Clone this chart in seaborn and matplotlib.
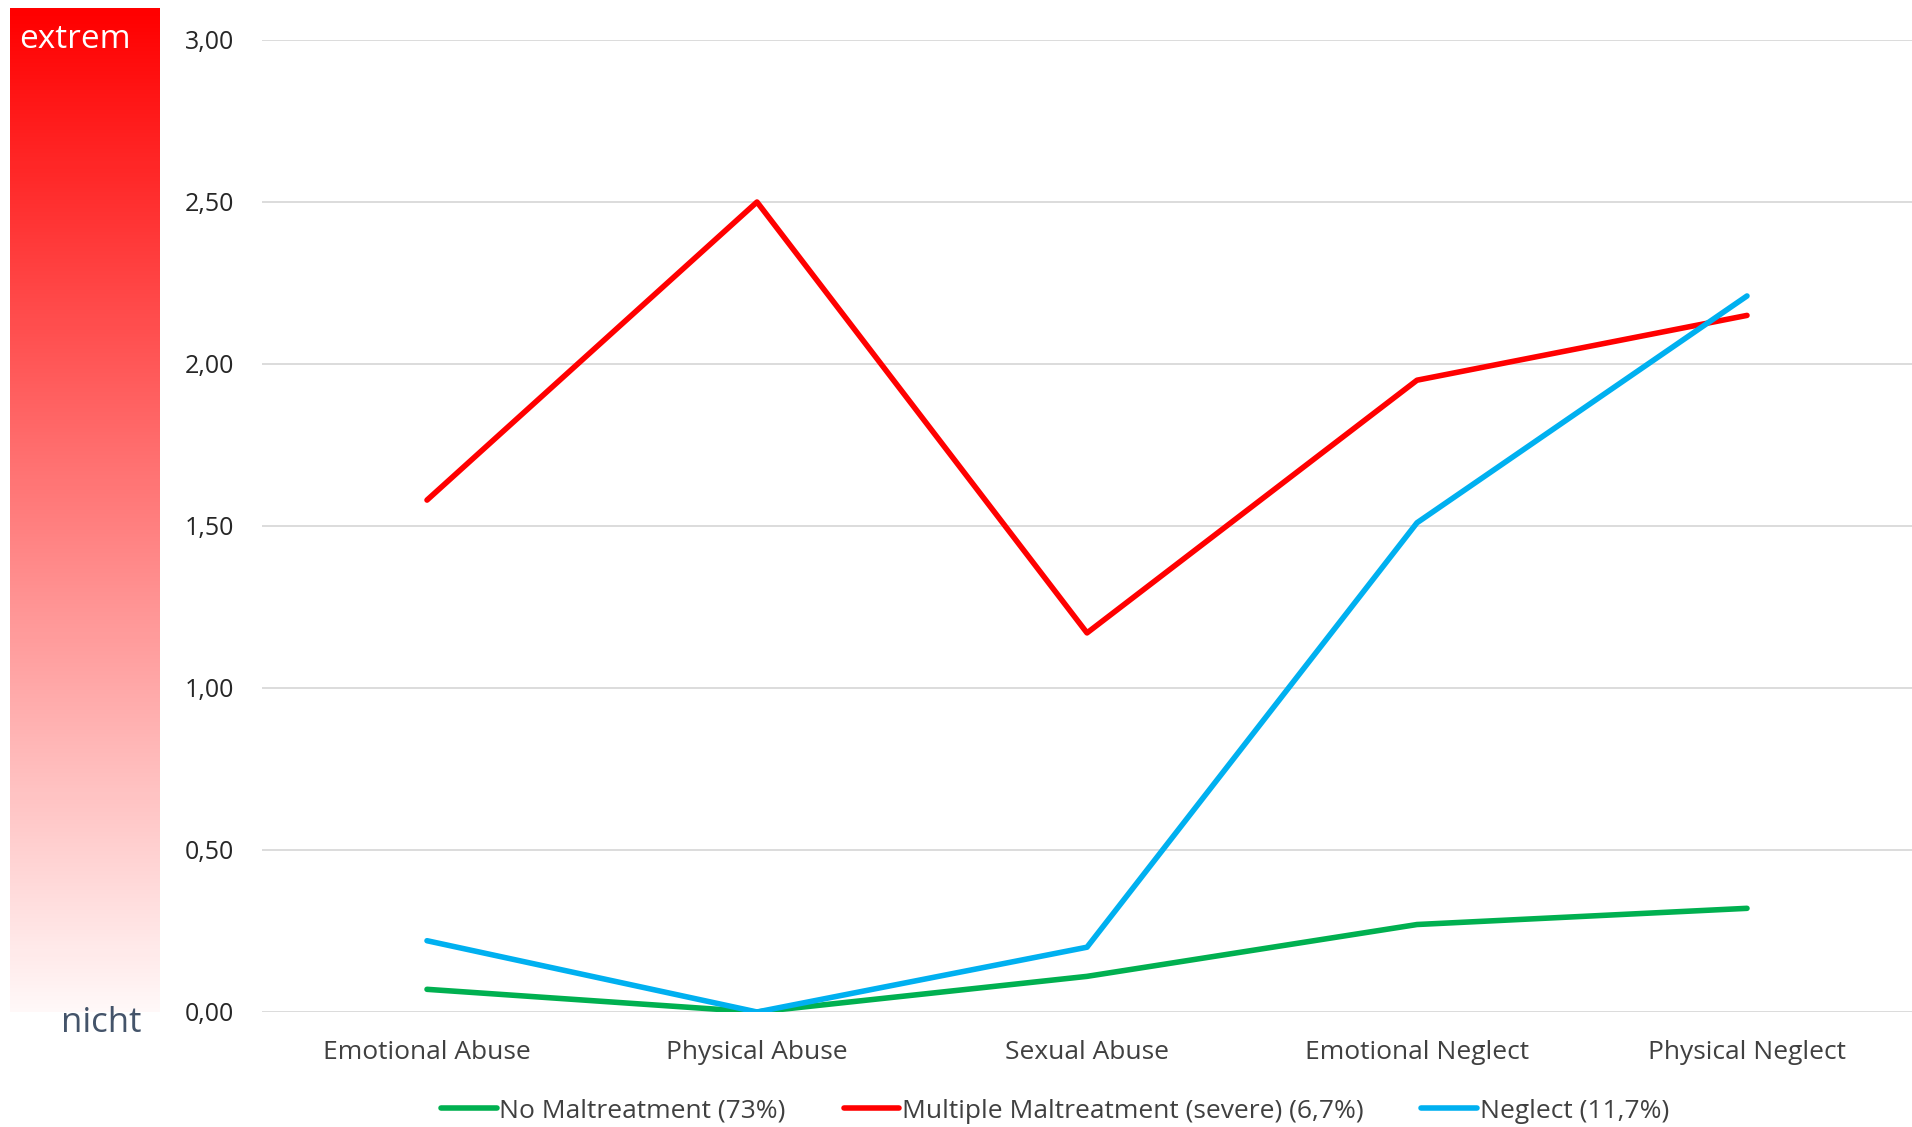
import numpy as np
import pandas as pd
import matplotlib
matplotlib.use("Agg")
import matplotlib.pyplot as plt
import seaborn as sns

# Mean severity per maltreatment type, by latent class
categories = ["Emotional Abuse", "Physical Abuse", "Sexual Abuse",
              "Emotional Neglect", "Physical Neglect"]
no_maltreatment = [0.07, 0.00, 0.11, 0.27, 0.32]
multiple_severe = [1.58, 2.50, 1.17, 1.95, 2.15]
neglect = [0.22, 0.00, 0.20, 1.51, 2.21]

series_names = ["No Maltreatment (73%)",
                "Multiple Maltreatment (severe) (6,7%)",
                "Neglect (11,7%)"]
series_values = [no_maltreatment, multiple_severe, neglect]
series_colors = ["#00B050", "#FF0000", "#00B0F0"]

y_ticks = [0.0, 0.5, 1.0, 1.5, 2.0, 2.5, 3.0]

rows = []
for name, vals in zip(series_names, series_values):
    for i, (cat, v) in enumerate(zip(categories, vals)):
        rows.append({"pos": i, "category": cat, "value": v, "group": name})
df = pd.DataFrame(rows)

sns.set_style("white")
plt.rcParams["font.family"] = ["Open Sans", "DejaVu Sans"]

W, H = 1912, 1127
fig = plt.figure(figsize=(W / 100, H / 100), dpi=100)

# severity scale bar on the left
gax = fig.add_axes([10 / W, 1 - 1012 / H, 150 / W, (1012 - 8) / H])
t = np.linspace(0, 1, 256)[:, None]
top = np.array([1.0, 0.0, 0.0])
bottom = np.array([1.0, 0.975, 0.975])
grad = (1 - t)[..., None] * top + t[..., None] * bottom
grad = np.repeat(grad, 2, axis=1)
gax.imshow(grad, aspect="auto", extent=[0, 1, 0, 1], origin="upper")
gax.set_axis_off()
fig.text(75 / W, 1 - 39 / H, "extrem", color="white", fontsize=24,
         ha="center", va="center")
fig.text(101 / W, 1 - 1023 / H, "nicht", color="#44546A", fontsize=25,
         ha="center", va="center")

# main line chart
ax = fig.add_axes([262 / W, 1 - 1012 / H, (W - 262) / W, (1012 - 40) / H])
sns.lineplot(data=df, x="pos", y="value", hue="group", hue_order=series_names,
             palette=series_colors, linewidth=4, ax=ax, legend=True,
             solid_capstyle="round")
for ln in ax.get_lines():
    ln.set_solid_capstyle("round")

ax.set_xlim(-0.5, len(categories) - 0.5)
ax.set_ylim(0, 3)
ax.set_yticks(y_ticks)
ax.set_yticklabels([f"{v:.2f}".replace(".", ",") for v in y_ticks],
                   fontsize=18, color="#262626")
ax.set_xticks(range(len(categories)))
ax.set_xticklabels(categories, fontsize=19, color="#404040")
ax.tick_params(axis="y", length=0, pad=20)
ax.tick_params(axis="x", length=0, pad=20)
ax.set_xlabel("")
ax.set_ylabel("")
ax.grid(axis="y", color="#D9D9D9", linewidth=1.3)
ax.set_axisbelow(True)
for s in ax.spines.values():
    s.set_visible(False)

handles, labels = ax.get_legend_handles_labels()
ax.get_legend().remove()
for h in handles:
    h.set_linewidth(4)
fig.legend(handles, labels, loc="center", ncol=3,
           bbox_to_anchor=(1055 / W, 1 - 1111 / H), frameon=False,
           fontsize=19, handlelength=2.1, handletextpad=0.1,
           columnspacing=2.2, labelcolor="#404040")

fig.savefig("out.png", dpi=100)
